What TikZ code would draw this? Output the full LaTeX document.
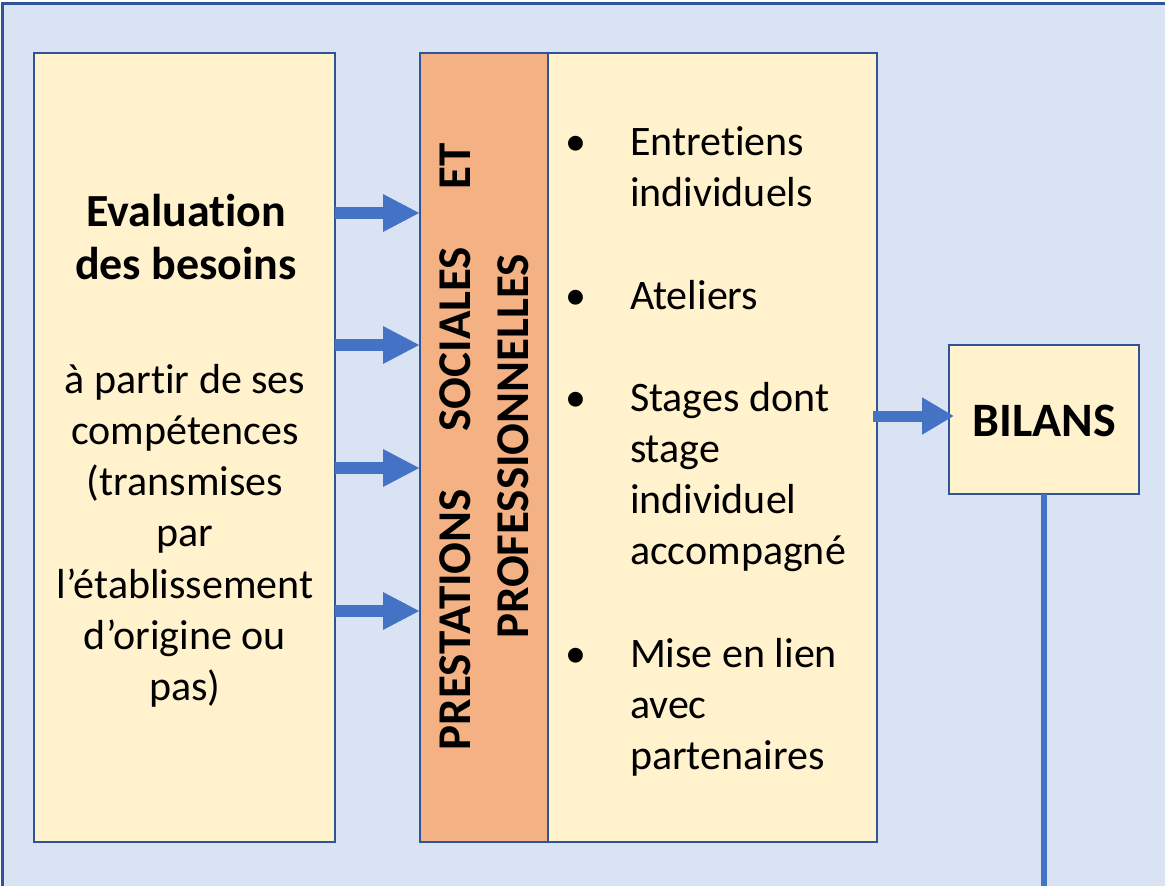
\documentclass[tikz,border=0pt]{standalone}
\usepackage{fontspec}
\setmainfont{Carlito}[Ligatures={NoCommon,NoContextual}]
\usetikzlibrary{arrows.meta}
\definecolor{bgblue}{HTML}{DAE3F3}
\definecolor{boxfill}{HTML}{FFF2CC}
\definecolor{orangefill}{HTML}{F4B183}
\definecolor{frameblue}{HTML}{2F5597}
\definecolor{arrowblue}{HTML}{4472C4}
\begin{document}
\begin{tikzpicture}[x=1pt,y=-1pt,
  boxstyle/.style={draw=frameblue, line width=2.5pt, fill=boxfill, inner sep=0pt, outer sep=0pt, anchor=north west},
  txt/.style={inner sep=0pt, outer sep=0pt, text=black},
  bigarrow/.style={draw=arrowblue, line width=12pt, -{Triangle[length=37pt, width=35pt]}},
  smallarrow/.style={draw=arrowblue, line width=11pt, -{Triangle[length=32pt, width=35pt]}},
  normalfont/.style={font=\fontsize{42}{51.3}\selectfont},
  boldfont/.style={font=\fontsize{46}{53}\selectfont\bfseries},
  vertfont/.style={font=\fontsize{47}{53}\selectfont\bfseries}
]
\useasboundingbox (0,0) rectangle (1165,886);
\clip (0,0) rectangle (1165,886);
\fill[white] (0,0) rectangle (1165,886);
\draw[line width=3pt, draw=frameblue, fill=bgblue] (2.5,3) rectangle (1220,960);

% boxes
\node[boxstyle, minimum width=301pt, minimum height=789pt] (eval) at (34,53) {};
\node[boxstyle, fill=orangefill, minimum width=128pt, minimum height=789pt] (prest) at (420,53) {};
\node[boxstyle, minimum width=329pt, minimum height=789pt] (list) at (548,53) {};
\node[boxstyle, minimum width=190pt, minimum height=149pt] (bilans) at (949,345) {};
\node[txt, font=\fontsize{48}{55}\selectfont\bfseries] (bilanstxt) at (1044,421) {BILANS};

% left text
\node[txt, boldfont, anchor=base] (evaltitle) at (186,226)
  {\begin{tabular}[t]{@{}c@{}}Evaluation\\des besoins\end{tabular}};
\node[txt, normalfont, anchor=base] (evalbody) at (185,393)
  {\begin{tabular}[t]{@{}c@{}}à partir de ses\\compétences\\(transmises\\par\\l’établissement\\d’origine ou\\pas)\end{tabular}};

% vertical text
\node[txt, rotate=90, anchor=base, vertfont] (prl1) at (470,446.5)
  {\hbox to 607pt{PRESTATIONS\hfill SOCIALES\hfill ET}};
\node[txt, rotate=90, anchor=base, vertfont] (prl2) at (528,446.5)
  {PROFESSIONNELLES};

% bullet list
\node[txt, normalfont, anchor=base] (b1) at (576,155) {•};
\node[txt, normalfont, anchor=base] (b2) at (576,309) {•};
\node[txt, normalfont, anchor=base] (b3) at (576,411) {•};
\node[txt, normalfont, anchor=base] (b4) at (576,667) {•};
\node[txt, normalfont, anchor=base west] (i1) at (630,155)
  {\begin{tabular}[t]{@{}l@{}}Entretiens\\individuels\end{tabular}};
\node[txt, normalfont, anchor=base west] (i2) at (630,309) {Ateliers};
\node[txt, normalfont, anchor=base west] (i3) at (630,411)
  {\begin{tabular}[t]{@{}l@{}}Stages dont\\stage\\individuel\\accompagné\end{tabular}};
\node[txt, normalfont, anchor=base west] (i4) at (630,667)
  {\begin{tabular}[t]{@{}l@{}}Mise en lien\\avec\\partenaires\end{tabular}};

% arrows
\coordinate (ya) at (0,213);
\coordinate (yb) at (0,345);
\coordinate (yc) at (0,468);
\coordinate (yd) at (0,611);
\coordinate (ye) at (0,416);
\coordinate (yend) at (0,900);
\draw[bigarrow] (eval.east |- ya) -- (prest.west |- ya);
\draw[bigarrow] (eval.east |- yb) -- (prest.west |- yb);
\draw[bigarrow] (eval.east |- yc) -- (prest.west |- yc);
\draw[bigarrow] (eval.east |- yd) -- (prest.west |- yd);
\draw[smallarrow, shorten <=-4pt, shorten >=-5pt] (list.east |- ye) -- (bilans.west |- ye);
\draw[draw=arrowblue, line width=6pt] (bilans.south) -- (bilans.south |- yend);
\end{tikzpicture}
\end{document}
